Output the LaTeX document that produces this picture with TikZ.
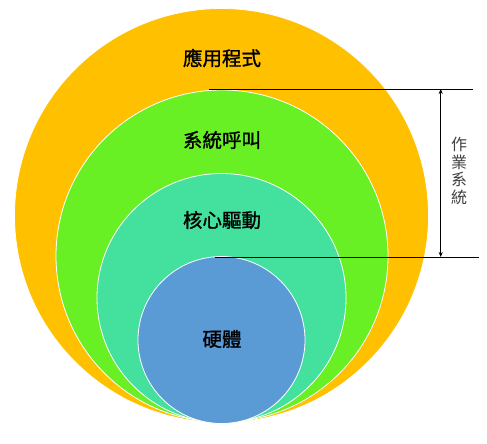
\documentclass[tikz,border=0pt]{standalone}
\usepackage{fontspec}
\newfontfamily\cjk{Noto Sans CJK TC}
\newfontfamily\cjkheavy[FakeBold=1.2]{Noto Sans CJK TC}
\usetikzlibrary{arrows.meta}
\definecolor{appcolor}{HTML}{FFC000}
\definecolor{callcolor}{HTML}{69F024}
\definecolor{kernelcolor}{HTML}{44E09E}
\definecolor{hwcolor}{HTML}{5B9BD5}
\definecolor{oscolor}{HTML}{404040}
\tikzset{
    layer/.style={circle,draw=white,line width=0.8pt,inner sep=0pt},
    layertext/.style={font=\cjkheavy\fontsize{19.5}{22}\selectfont,text=black},
}
\begin{document}
\begin{tikzpicture}[x=1pt,y=-1pt]
    \useasboundingbox (0,0) rectangle (487,444);
    %draw layers
    \node[layer,fill=appcolor,minimum size=414pt] (app) at (221.5,215.5) {};
    \node[layer,fill=callcolor,minimum size=332pt] (call) at (222,256) {};
    \node[layer,fill=kernelcolor,minimum size=249pt] (kernel) at (221.5,298) {};
    \node[layer,fill=hwcolor,minimum size=167pt] (hw) at (221.5,340) {};
    %draw layer names
    \node[layertext] (apptext) at (222,58) {應用程式};
    \node[layertext] (calltext) at (222,140) {系統呼叫};
    \node[layertext] (kerneltext) at (222,220) {核心驅動};
    \node[layertext] (hwtext) at (222,339) {硬體};
    %draw os range
    \coordinate (ostop) at (209,89);
    \coordinate (ostopend) at (473,89);
    \coordinate (osbottom) at (215,257);
    \coordinate (osbottomend) at (479,257);
    \coordinate (arrowtop) at (440.7,89);
    \coordinate (arrowbottom) at (440.7,257);
    \draw [line width=0.6pt] (ostop) -- (ostopend);
    \draw [line width=0.6pt] (osbottom) -- (osbottomend);
    \draw [{Stealth[length=5pt,width=4pt]}-{Stealth[length=5pt,width=4pt]},line width=0.6pt] (arrowtop) -- (arrowbottom);
    \node[font=\cjk\fontsize{16}{17.5}\selectfont,text=oscolor,align=center] (ostext) at (459,171) {作\\業\\系\\統};
\end{tikzpicture}
\end{document}
